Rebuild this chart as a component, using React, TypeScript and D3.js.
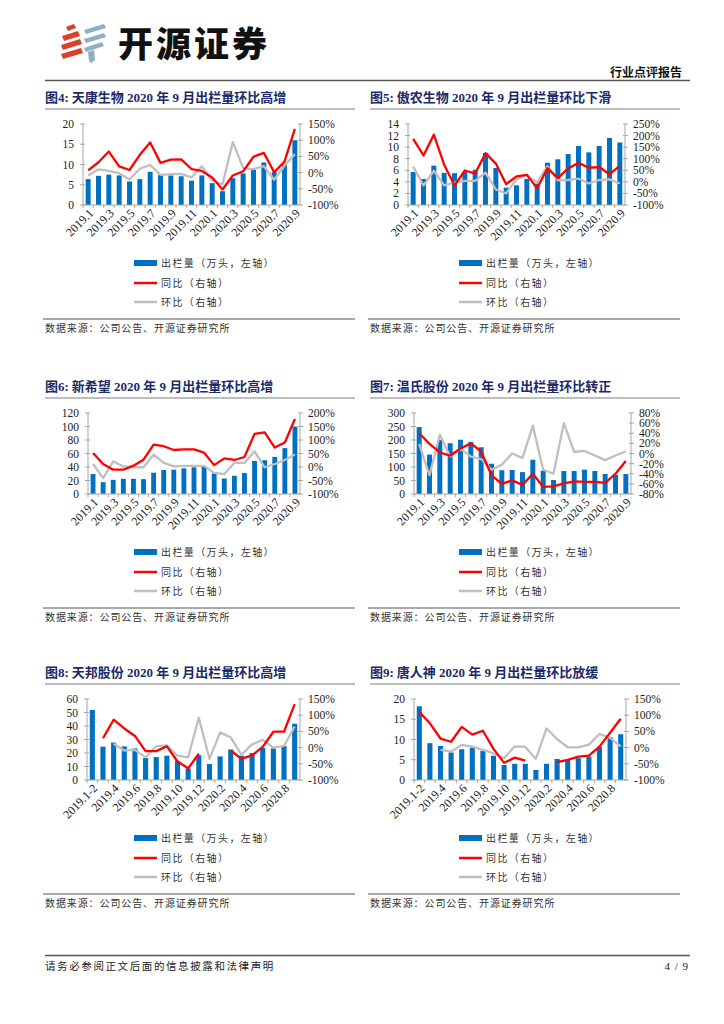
import React from 'react';
import * as d3 from 'd3';

// ---------- categories ----------
const cats21 = ['2019.1','2019.2','2019.3','2019.4','2019.5','2019.6','2019.7','2019.8','2019.9','2019.10','2019.11','2019.12','2020.1','2020.2','2020.3','2020.4','2020.5','2020.6','2020.7','2020.8','2020.9'];
const cats20 = ['2019.1-2','2019.3','2019.4','2019.5','2019.6','2019.7','2019.8','2019.9','2019.10','2019.11','2019.12','2020.1','2020.2','2020.3','2020.4','2020.5','2020.6','2020.7','2020.8','2020.9'];

// ---------- 图4 天康生物 ----------
const tkBars = [6.4, 7.2, 7.5, 7.3, 5.8, 6.4, 8.2, 7.4, 7.3, 7.1, 6.0, 7.3, 5.4, 3.4, 6.6, 7.8, 8.8, 10.5, 8.1, 9.9, 16.0];
const tkYoY = [7, 32, 65, 19, 8, 55, 93, 30, 40, 41, 11, 5, -15, -52, -9, 4, 49, 61, 1, 34, 135];
const tkMoM = [-9, 10, 5, -2, -21, 12, 24, -7, -5, -4, -15, 20, -25, -36, 94, 14, 11, 20, -22, 21, 57];

// ---------- 图5 傲农生物 ----------
const anBars = [5.7, 4.5, 6.8, 5.55, 5.5, 5.8, 6.1, 9.0, 6.4, 3.0, 3.4, 4.5, 3.7, 7.3, 7.9, 8.8, 10.2, 9.1, 10.2, 11.6, 10.8];
const anYoY = [186, 114, 204, 74, -16, 49, 36, 124, 79, -10, 24, 30, -28, 59, 16, 58, 82, 61, 64, 33, 69];
const anMoM = [66, -16, 48, -15, -3, 4, 4, 40, -33, -50, 11, 30, -3, 68, 7, 8, 14, -7, 8, 11, -7];

// ---------- 图6 新希望 ----------
const xxwBars = [29.5, 17.5, 21, 22.5, 22.5, 22, 31.5, 35.5, 36, 38, 39.5, 40.5, 30.6, 23, 27, 31, 49, 50, 55, 68, 100];
const xxwYoY = [52, 11, -10, -10, 5, 27, 83, 77, 63, 65, 65, 53, 7, 32, 26, 37, 123, 128, 72, 91, 178];
const xxwMoM = [11, -41, 21, 2, -1, -1, 46, 15, 2, 4, 4, 4, -22, -26, 15, 15, 58, -1, 11, 26, 46];

// ---------- 图7 温氏股份 ----------
const wsBars = [248, 146, 200, 188, 201, 193, 173, 112, 88, 89, 81, 127, 86, 52, 85, 85, 90, 85, 74, 71, 74];
const wsYoY = [40, 19, 2, -4, 10, 20, 4, -43, -60, -53, -62, -40, -66, -65, -59, -55, -56, -56, -58, -40, -15];
const wsMoM = [19, -43, 37, -6, 9, -6, -11, -32, -22, 0, -9, 55, -32, -40, 60, 3, 5, -4, -13, -4, 4];

// ---------- 图8 天邦股份 ----------
const tbBars = [51.9, 24.7, 27.7, 24.9, 23.4, 16.3, 17.0, 18.0, 14.2, 8.6, 18.3, 11.8, 17.5, 22.6, 18.0, 20.0, 23.7, 23.4, 25.2, 41.7];
const tbYoY = [null, 29, 86, 59, 36, -11, -11, 4, -43, -64, -19, null, null, -9, -35, -24, 2, 49, 49, 134];
const tbMoM = [null, null, 12, -9, -7, -30, 4, 7, -25, -30, 92, -35, 47, 31, -22, 10, 24, 0, 5, 65];

// ---------- 图9 唐人神 ----------
const trsBars = [18.2, 9.1, 8.4, 6.8, 7.6, 8.0, 7.2, 6.0, 3.7, 4.0, 4.0, 2.5, 4.0, 5.2, 5.0, 5.4, 5.8, 8.2, 10.6, 11.3];
const trsYoY = [110, 75, 28, 18, 64, 40, 52, -4, -47, -31, -40, null, null, -45, -38, -28, -25, 3, 46, 89];
const trsMoM = [null, null, -7, -12, 8, 3, -7, -18, -33, 4, 2, -35, 59, 26, 1, 1, 9, 42, 30, 4];

// ---------- texts ----------
const legendLabels = ['出栏量（万头，左轴）', '同比（右轴）', '环比（右轴）'];
const sourceText = '数据来源：公司公告、开源证券研究所';

const BLUE = '#0070C0';
const RED = '#FF0000';
const GRAY = '#BFBFBF';
const SERIF = "'Liberation Serif','Times New Roman',serif";
const CJK = "'Noto Sans CJK SC',sans-serif";

type PanelProps = {
  x0: number; ty: number; fig: string; title: string;
  cats: string[]; bars: number[]; yoy: (number | null)[]; mom: (number | null)[];
  leftMax: number; leftStep: number; rMin: number; rMax: number; rStep: number;
  plotL: number; plotR: number;
};

function Panel(p: PanelProps) {
  const top = p.ty + 27;
  const bottom = p.ty + 108;
  const x = d3.scaleBand<string>().domain(p.cats).range([p.plotL, p.plotR]).paddingInner(0.52).paddingOuter(0.26);
  const yL = d3.scaleLinear().domain([0, p.leftMax]).range([bottom, top]);
  const yR = d3.scaleLinear().domain([p.rMin, p.rMax]).range([bottom, top]);
  const cx = (i: number) => (x(p.cats[i]) as number) + x.bandwidth() / 2;
  const line = d3.line<number | null>()
    .defined((d) => d != null)
    .x((_, i) => cx(i))
    .y((d) => yR(d as number));
  const lTicks = d3.range(0, p.leftMax + 1e-9, p.leftStep);
  const rTicks = d3.range(p.rMin, p.rMax + 1e-9, p.rStep);
  const step = x.step();
  const legY = [p.ty + 166, p.ty + 186, p.ty + 205];
  const axisColor = '#A6A6A6';
  return (
    <g>
      <text x={p.x0} y={p.ty + 5} fontFamily={SERIF + ',' + CJK} fontWeight="bold" fontSize={13} fill="#1B2A6B">
        <tspan fontFamily={CJK}>图</tspan>{p.fig}:<tspan fontFamily={CJK}>{'\u00a0'}</tspan>{p.title}
      </text>
      <line x1={p.x0} x2={p.x0 + 310} y1={p.ty + 12} y2={p.ty + 12} stroke="#7F7F7F" strokeWidth={1.2} />

      {/* bars */}
      {p.bars.map((v, i) => (
        <rect key={'b' + i} x={x(p.cats[i])} y={yL(v)} width={x.bandwidth()} height={bottom - yL(v)} fill={BLUE} />
      ))}
      {/* axes */}
      <line x1={p.plotL} x2={p.plotL} y1={top} y2={bottom} stroke={axisColor} />
      <line x1={p.plotR} x2={p.plotR} y1={top} y2={bottom} stroke={axisColor} />
      <line x1={p.plotL} x2={p.plotR} y1={bottom} y2={bottom} stroke={axisColor} />
      {lTicks.map((t) => (
        <g key={'l' + t}>
          <line x1={p.plotL - 3} x2={p.plotL + 2} y1={yL(t)} y2={yL(t)} stroke={axisColor} />
          <text x={p.plotL - 9} y={yL(t)} dy="0.35em" textAnchor="end" fontFamily={SERIF} fontSize={11.5} fill="#222">{t}</text>
        </g>
      ))}
      {rTicks.map((t) => (
        <g key={'r' + t}>
          <line x1={p.plotR - 2} x2={p.plotR + 3} y1={yR(t)} y2={yR(t)} stroke={axisColor} />
          <text x={p.plotR + 8} y={yR(t)} dy="0.35em" textAnchor="start" fontFamily={SERIF} fontSize={11.5} fill="#222">{t + '%'}</text>
        </g>
      ))}
      {p.cats.map((c, i) => (
        <line key={'xt' + i} x1={p.plotL + step * i} x2={p.plotL + step * i} y1={bottom} y2={bottom + 3} stroke={axisColor} />
      ))}
      {p.cats.map((c, i) => (i % 2 === 0 ? (
        <text key={'xl' + i} transform={`translate(${cx(i) + 3},${bottom + 6}) rotate(-45)`} textAnchor="end" dy="0.35em"
          fontFamily={SERIF} fontSize={12} fill="#222">{c}</text>
      ) : null))}
      {/* lines */}
      <path d={line(p.mom) || ''} fill="none" stroke={GRAY} strokeWidth={2.3} strokeLinejoin="round" />
      <path d={line(p.yoy) || ''} fill="none" stroke={RED} strokeWidth={2.3} strokeLinejoin="round" />

      {/* legend */}
      <rect x={p.x0 + 89} y={legY[0] - 3} width={23} height={6} fill={BLUE} />
      <line x1={p.x0 + 89} x2={p.x0 + 112} y1={legY[1]} y2={legY[1]} stroke={RED} strokeWidth={2.5} />
      <line x1={p.x0 + 89} x2={p.x0 + 112} y1={legY[2]} y2={legY[2]} stroke={GRAY} strokeWidth={2.5} />
      {legendLabels.map((t, i) => (
        <text key={'lg' + i} x={p.x0 + 116} y={legY[i]} dy="0.35em" fontFamily={CJK} fontSize={10} letterSpacing={1.4} fill="#333">{t}</text>
      ))}
      <line x1={p.x0 - 2} x2={p.x0 + 310} y1={p.ty + 222} y2={p.ty + 222} stroke="#555" strokeWidth={1} />
      <text x={p.x0} y={p.ty + 231} dy="0.35em" fontFamily={CJK} fontSize={10} letterSpacing={0.9} fill="#333">{sourceText}</text>
    </g>
  );
}

function Logo() {
  const red = '#D9412C';
  const blue = '#8FAFC2';
  return (
    <g>
      {/* red stripes */}
      <path d="M66,27 L74,24 L76,28 L68,31 Z" fill={red} />
      <path d="M62,36 L78,31 L80,36 L64,41 Z" fill={red} />
      <path d="M61,45 L80,39 L82,44 L63,50 Z" fill={red} />
      <path d="M61,54 L81,48 L83,53 L63,59 Z" fill={red} />
      {/* blue-gray stripes */}
      <path d="M84,30 L104,24 L106,28 L86,34 Z" fill={blue} />
      <path d="M84,39 L104,33 L106,37 L86,43 Z" fill={blue} />
      <path d="M84,48 L102,42 L104,46 L86,52 Z" fill={blue} />
      <path d="M88,52 L94,50 L95,60 L91,63 L89,61 Z" fill={blue} />
    </g>
  );
}

export default function App() {
  return (
    <svg width={724} height={1024} style={{ position: 'absolute', left: 0, top: 0, background: '#fff' }}>
      <rect x={0} y={0} width={724} height={1024} fill="#fff" />
      <Logo />
      <text x={118} y={57} fontFamily={CJK} fontWeight={900} fontSize={35} letterSpacing={3} fill="#111">开源证券</text>
      <text x={682} y={77} textAnchor="end" fontFamily={CJK} fontWeight="bold" fontSize={12} fill="#111">行业点评报告</text>
      <line x1={45} x2={690} y1={80.5} y2={80.5} stroke="#555" strokeWidth={1.6} />

      <Panel x0={45} ty={97} fig="4" title="天康生物 2020 年 9 月出栏量环比高增" cats={cats21} bars={tkBars} yoy={tkYoY} mom={tkMoM}
        leftMax={20} leftStep={5} rMin={-100} rMax={150} rStep={50} plotL={83} plotR={300} />
      <Panel x0={370} ty={97} fig="5" title="傲农生物 2020 年 9 月出栏量环比下滑" cats={cats21} bars={anBars} yoy={anYoY} mom={anMoM}
        leftMax={14} leftStep={2} rMin={-100} rMax={250} rStep={50} plotL={408} plotR={625} />
      <Panel x0={45} ty={386} fig="6" title="新希望 2020 年 9 月出栏量环比高增" cats={cats21} bars={xxwBars} yoy={xxwYoY} mom={xxwMoM}
        leftMax={120} leftStep={20} rMin={-100} rMax={200} rStep={50} plotL={88} plotR={300} />
      <Panel x0={370} ty={386} fig="7" title="温氏股份 2020 年 9 月出栏量环比转正" cats={cats21} bars={wsBars} yoy={wsYoY} mom={wsMoM}
        leftMax={300} leftStep={50} rMin={-80} rMax={80} rStep={20} plotL={414} plotR={631} />
      <Panel x0={45} ty={672} fig="8" title="天邦股份 2020 年 9 月出栏量环比高增" cats={cats20} bars={tbBars} yoy={tbYoY} mom={tbMoM}
        leftMax={60} leftStep={10} rMin={-100} rMax={150} rStep={50} plotL={87} plotR={300} />
      <Panel x0={370} ty={672} fig="9" title="唐人神 2020 年 9 月出栏量环比放缓" cats={cats20} bars={trsBars} yoy={trsYoY} mom={trsMoM}
        leftMax={20} leftStep={5} rMin={-100} rMax={150} rStep={50} plotL={414} plotR={626} />

      <line x1={45} x2={690} y1={955.5} y2={955.5} stroke="#555" strokeWidth={1.6} />
      <text x={45} y={966} dy="0.35em" fontFamily={CJK} fontSize={10.5} letterSpacing={1.6} fill="#222">请务必参阅正文后面的信息披露和法律声明</text>
      <text x={689} y={966} dy="0.35em" textAnchor="end" fontFamily={SERIF} fontSize={11} letterSpacing={1} fill="#222">4 / 9</text>
    </svg>
  );
}
